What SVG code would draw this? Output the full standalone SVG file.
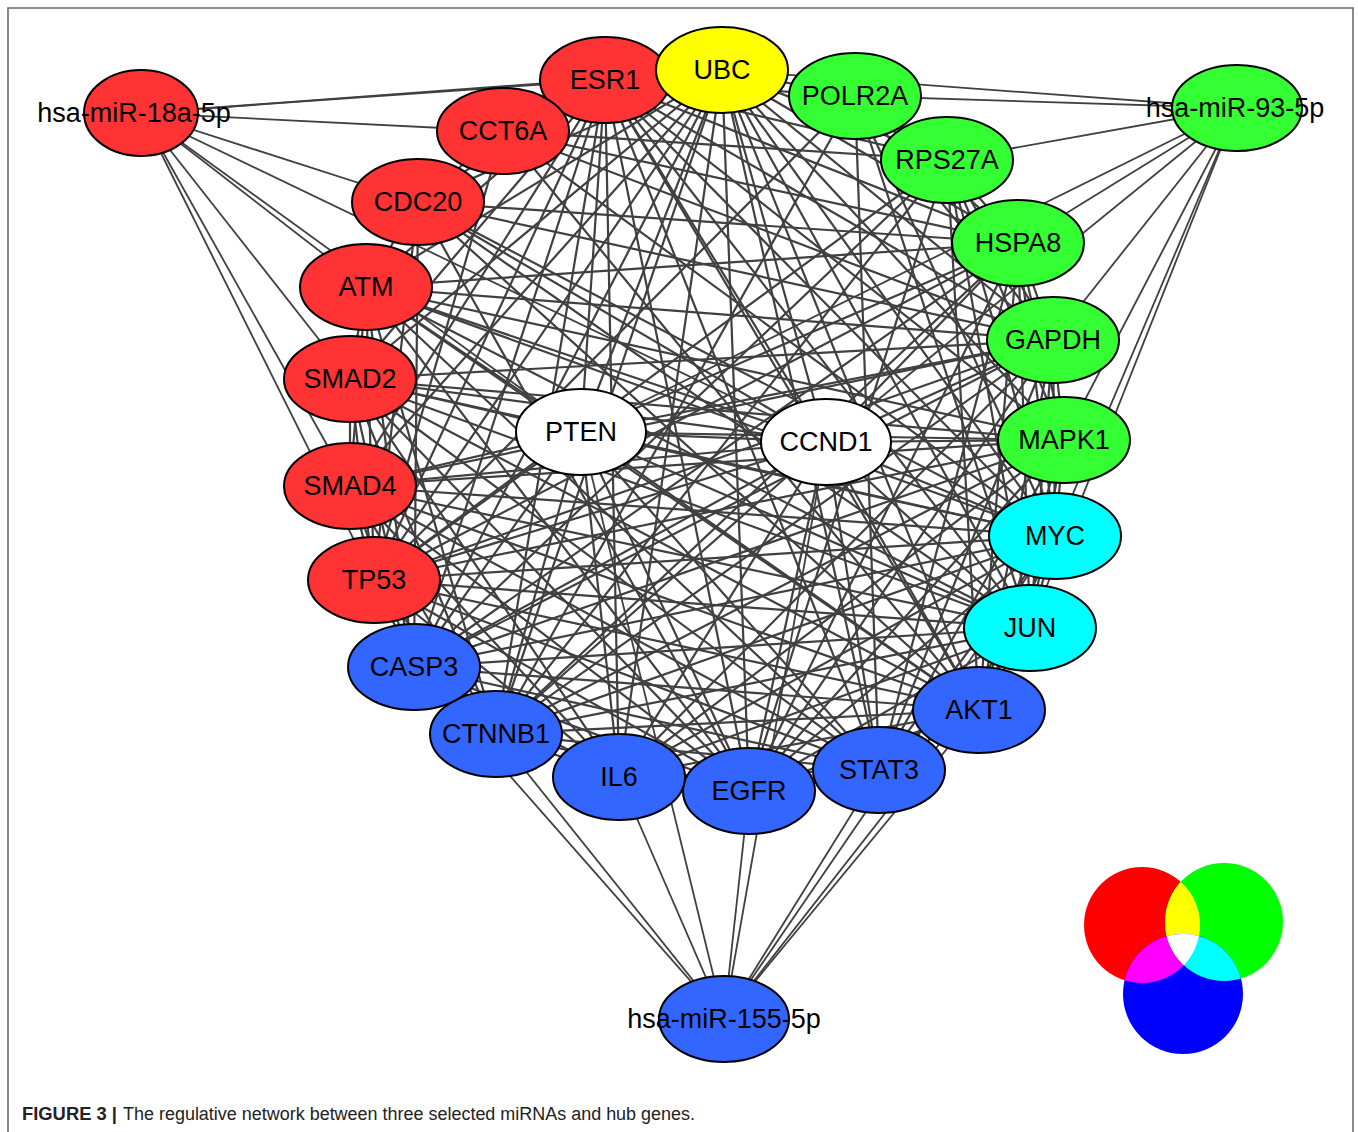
<svg xmlns="http://www.w3.org/2000/svg" width="1358" height="1132" viewBox="0 0 1358 1132">
<style>
.bg{fill:#fff}
.frame{fill:none;stroke:#666;stroke-width:1.5}
.e line{stroke:#404040;stroke-width:2.2}
.m line{stroke:#404040;stroke-width:1.8}
.n ellipse{stroke:#000;stroke-width:2}
.red{fill:#FF3333}.grn{fill:#33FF33}.blu{fill:#3366FF}.cyn{fill:#00FFFF}.yel{fill:#FFFF00}.wht{fill:#FFFFFF}
text{font-family:"Liberation Sans",Arial,sans-serif;fill:#000}
.lab{font-size:27px;text-anchor:middle}
.cap{font-size:18px;fill:#222}
</style>
<defs>
<clipPath id="cR"><circle cx="1142" cy="925" r="58"/></clipPath>
<clipPath id="cG"><circle cx="1224" cy="922" r="59"/></clipPath>
</defs>
<rect class="bg" x="0" y="0" width="1358" height="1132"/>
<rect class="frame" x="8" y="8" width="1345" height="1140"/>
<g id="connectors">
<g class="m">
<line x1="141" y1="113" x2="605" y2="80"/><line x1="141" y1="113" x2="722" y2="70"/><line x1="141" y1="113" x2="503" y2="131"/><line x1="141" y1="113" x2="418" y2="202"/><line x1="141" y1="113" x2="366" y2="287"/><line x1="141" y1="113" x2="350" y2="379"/><line x1="141" y1="113" x2="350" y2="486"/><line x1="141" y1="113" x2="374" y2="580"/><line x1="141" y1="113" x2="581" y2="432"/><line x1="141" y1="113" x2="826" y2="442"/>
<line x1="1237" y1="108" x2="722" y2="70"/><line x1="1237" y1="108" x2="855" y2="96"/><line x1="1237" y1="108" x2="947" y2="160"/><line x1="1237" y1="108" x2="1018" y2="243"/><line x1="1237" y1="108" x2="1053" y2="340"/><line x1="1237" y1="108" x2="1064" y2="440"/><line x1="1237" y1="108" x2="1055" y2="536"/><line x1="1237" y1="108" x2="1030" y2="628"/><line x1="1237" y1="108" x2="581" y2="432"/><line x1="1237" y1="108" x2="826" y2="442"/>
<line x1="724" y1="1019" x2="414" y2="667"/><line x1="724" y1="1019" x2="496" y2="734"/><line x1="724" y1="1019" x2="619" y2="777"/><line x1="724" y1="1019" x2="749" y2="791"/><line x1="724" y1="1019" x2="879" y2="770"/><line x1="724" y1="1019" x2="979" y2="710"/><line x1="724" y1="1019" x2="1055" y2="536"/><line x1="724" y1="1019" x2="1030" y2="628"/><line x1="724" y1="1019" x2="581" y2="432"/><line x1="724" y1="1019" x2="826" y2="442"/>
</g>
<g class="e">
<line x1="605" y1="80" x2="1053" y2="340"/><line x1="605" y1="80" x2="581" y2="432"/><line x1="605" y1="80" x2="826" y2="442"/><line x1="605" y1="80" x2="1064" y2="440"/><line x1="605" y1="80" x2="1055" y2="536"/><line x1="605" y1="80" x2="374" y2="580"/><line x1="605" y1="80" x2="1030" y2="628"/><line x1="605" y1="80" x2="414" y2="667"/><line x1="605" y1="80" x2="979" y2="710"/><line x1="605" y1="80" x2="496" y2="734"/><line x1="605" y1="80" x2="619" y2="777"/><line x1="605" y1="80" x2="749" y2="791"/><line x1="605" y1="80" x2="879" y2="770"/>
<line x1="1053" y1="340" x2="581" y2="432"/><line x1="1053" y1="340" x2="826" y2="442"/><line x1="1053" y1="340" x2="1064" y2="440"/><line x1="1053" y1="340" x2="1055" y2="536"/><line x1="1053" y1="340" x2="374" y2="580"/><line x1="1053" y1="340" x2="1030" y2="628"/><line x1="1053" y1="340" x2="414" y2="667"/><line x1="1053" y1="340" x2="979" y2="710"/><line x1="1053" y1="340" x2="496" y2="734"/><line x1="1053" y1="340" x2="619" y2="777"/><line x1="1053" y1="340" x2="749" y2="791"/><line x1="1053" y1="340" x2="879" y2="770"/>
<line x1="581" y1="432" x2="826" y2="442"/><line x1="581" y1="432" x2="1064" y2="440"/><line x1="581" y1="432" x2="1055" y2="536"/><line x1="581" y1="432" x2="374" y2="580"/><line x1="581" y1="432" x2="1030" y2="628"/><line x1="581" y1="432" x2="414" y2="667"/><line x1="581" y1="432" x2="979" y2="710"/><line x1="581" y1="432" x2="496" y2="734"/><line x1="581" y1="432" x2="619" y2="777"/><line x1="581" y1="432" x2="749" y2="791"/><line x1="581" y1="432" x2="879" y2="770"/>
<line x1="826" y1="442" x2="1064" y2="440"/><line x1="826" y1="442" x2="1055" y2="536"/><line x1="826" y1="442" x2="374" y2="580"/><line x1="826" y1="442" x2="1030" y2="628"/><line x1="826" y1="442" x2="414" y2="667"/><line x1="826" y1="442" x2="979" y2="710"/><line x1="826" y1="442" x2="496" y2="734"/><line x1="826" y1="442" x2="619" y2="777"/><line x1="826" y1="442" x2="749" y2="791"/><line x1="826" y1="442" x2="879" y2="770"/>
<line x1="1064" y1="440" x2="1055" y2="536"/><line x1="1064" y1="440" x2="374" y2="580"/><line x1="1064" y1="440" x2="1030" y2="628"/><line x1="1064" y1="440" x2="414" y2="667"/><line x1="1064" y1="440" x2="979" y2="710"/><line x1="1064" y1="440" x2="496" y2="734"/><line x1="1064" y1="440" x2="619" y2="777"/><line x1="1064" y1="440" x2="749" y2="791"/><line x1="1064" y1="440" x2="879" y2="770"/>
<line x1="1055" y1="536" x2="374" y2="580"/><line x1="1055" y1="536" x2="1030" y2="628"/><line x1="1055" y1="536" x2="414" y2="667"/><line x1="1055" y1="536" x2="979" y2="710"/><line x1="1055" y1="536" x2="496" y2="734"/><line x1="1055" y1="536" x2="619" y2="777"/><line x1="1055" y1="536" x2="749" y2="791"/><line x1="1055" y1="536" x2="879" y2="770"/>
<line x1="374" y1="580" x2="1030" y2="628"/><line x1="374" y1="580" x2="414" y2="667"/><line x1="374" y1="580" x2="979" y2="710"/><line x1="374" y1="580" x2="496" y2="734"/><line x1="374" y1="580" x2="619" y2="777"/><line x1="374" y1="580" x2="749" y2="791"/><line x1="374" y1="580" x2="879" y2="770"/>
<line x1="1030" y1="628" x2="414" y2="667"/><line x1="1030" y1="628" x2="979" y2="710"/><line x1="1030" y1="628" x2="496" y2="734"/><line x1="1030" y1="628" x2="619" y2="777"/><line x1="1030" y1="628" x2="749" y2="791"/><line x1="1030" y1="628" x2="879" y2="770"/>
<line x1="414" y1="667" x2="979" y2="710"/><line x1="414" y1="667" x2="496" y2="734"/><line x1="414" y1="667" x2="619" y2="777"/><line x1="414" y1="667" x2="749" y2="791"/><line x1="414" y1="667" x2="879" y2="770"/>
<line x1="979" y1="710" x2="496" y2="734"/><line x1="979" y1="710" x2="619" y2="777"/><line x1="979" y1="710" x2="749" y2="791"/><line x1="979" y1="710" x2="879" y2="770"/>
<line x1="496" y1="734" x2="619" y2="777"/><line x1="496" y1="734" x2="749" y2="791"/><line x1="496" y1="734" x2="879" y2="770"/>
<line x1="619" y1="777" x2="749" y2="791"/><line x1="619" y1="777" x2="879" y2="770"/><line x1="749" y1="791" x2="879" y2="770"/>
<line x1="722" y1="70" x2="605" y2="80"/><line x1="722" y1="70" x2="855" y2="96"/><line x1="722" y1="70" x2="503" y2="131"/><line x1="722" y1="70" x2="947" y2="160"/><line x1="722" y1="70" x2="418" y2="202"/><line x1="722" y1="70" x2="1018" y2="243"/><line x1="722" y1="70" x2="366" y2="287"/><line x1="722" y1="70" x2="1053" y2="340"/><line x1="722" y1="70" x2="350" y2="379"/><line x1="722" y1="70" x2="581" y2="432"/><line x1="722" y1="70" x2="826" y2="442"/><line x1="722" y1="70" x2="1064" y2="440"/><line x1="722" y1="70" x2="350" y2="486"/><line x1="722" y1="70" x2="1055" y2="536"/><line x1="722" y1="70" x2="374" y2="580"/><line x1="722" y1="70" x2="1030" y2="628"/><line x1="722" y1="70" x2="414" y2="667"/><line x1="722" y1="70" x2="979" y2="710"/><line x1="722" y1="70" x2="496" y2="734"/><line x1="722" y1="70" x2="619" y2="777"/><line x1="722" y1="70" x2="749" y2="791"/><line x1="722" y1="70" x2="879" y2="770"/>
<line x1="1018" y1="243" x2="374" y2="580"/><line x1="1018" y1="243" x2="979" y2="710"/><line x1="1018" y1="243" x2="1053" y2="340"/><line x1="1018" y1="243" x2="605" y2="80"/><line x1="1018" y1="243" x2="1055" y2="536"/><line x1="1018" y1="243" x2="496" y2="734"/><line x1="1018" y1="243" x2="414" y2="667"/><line x1="1018" y1="243" x2="749" y2="791"/><line x1="1018" y1="243" x2="1064" y2="440"/><line x1="1018" y1="243" x2="947" y2="160"/><line x1="1018" y1="243" x2="503" y2="131"/><line x1="1018" y1="243" x2="879" y2="770"/><line x1="1018" y1="243" x2="1030" y2="628"/><line x1="1018" y1="243" x2="581" y2="432"/><line x1="1018" y1="243" x2="826" y2="442"/>
<line x1="366" y1="287" x2="374" y2="580"/><line x1="366" y1="287" x2="979" y2="710"/><line x1="366" y1="287" x2="1055" y2="536"/><line x1="366" y1="287" x2="826" y2="442"/><line x1="366" y1="287" x2="581" y2="432"/><line x1="366" y1="287" x2="605" y2="80"/><line x1="366" y1="287" x2="350" y2="486"/><line x1="366" y1="287" x2="350" y2="379"/><line x1="366" y1="287" x2="414" y2="667"/><line x1="366" y1="287" x2="749" y2="791"/><line x1="366" y1="287" x2="1030" y2="628"/><line x1="366" y1="287" x2="1064" y2="440"/><line x1="366" y1="287" x2="496" y2="734"/><line x1="366" y1="287" x2="879" y2="770"/><line x1="366" y1="287" x2="1053" y2="340"/><line x1="366" y1="287" x2="418" y2="202"/><line x1="366" y1="287" x2="1018" y2="243"/>
<line x1="350" y1="379" x2="374" y2="580"/><line x1="350" y1="379" x2="350" y2="486"/><line x1="350" y1="379" x2="979" y2="710"/><line x1="350" y1="379" x2="1055" y2="536"/><line x1="350" y1="379" x2="1030" y2="628"/><line x1="350" y1="379" x2="496" y2="734"/><line x1="350" y1="379" x2="605" y2="80"/><line x1="350" y1="379" x2="749" y2="791"/><line x1="350" y1="379" x2="1064" y2="440"/><line x1="350" y1="379" x2="879" y2="770"/><line x1="350" y1="379" x2="826" y2="442"/><line x1="350" y1="379" x2="619" y2="777"/><line x1="350" y1="379" x2="414" y2="667"/><line x1="350" y1="379" x2="581" y2="432"/><line x1="350" y1="379" x2="1053" y2="340"/>
<line x1="350" y1="486" x2="374" y2="580"/><line x1="350" y1="486" x2="979" y2="710"/><line x1="350" y1="486" x2="1055" y2="536"/><line x1="350" y1="486" x2="1030" y2="628"/><line x1="350" y1="486" x2="496" y2="734"/><line x1="350" y1="486" x2="605" y2="80"/><line x1="350" y1="486" x2="826" y2="442"/><line x1="350" y1="486" x2="749" y2="791"/><line x1="350" y1="486" x2="1064" y2="440"/><line x1="350" y1="486" x2="879" y2="770"/><line x1="350" y1="486" x2="581" y2="432"/><line x1="350" y1="486" x2="414" y2="667"/><line x1="350" y1="486" x2="619" y2="777"/><line x1="350" y1="486" x2="1053" y2="340"/>
<line x1="418" y1="202" x2="374" y2="580"/><line x1="418" y1="202" x2="826" y2="442"/><line x1="418" y1="202" x2="1055" y2="536"/><line x1="418" y1="202" x2="605" y2="80"/><line x1="418" y1="202" x2="979" y2="710"/><line x1="418" y1="202" x2="503" y2="131"/><line x1="418" y1="202" x2="1053" y2="340"/><line x1="418" y1="202" x2="1030" y2="628"/><line x1="418" y1="202" x2="414" y2="667"/><line x1="418" y1="202" x2="749" y2="791"/><line x1="418" y1="202" x2="1018" y2="243"/>
<line x1="503" y1="131" x2="374" y2="580"/><line x1="503" y1="131" x2="1053" y2="340"/><line x1="503" y1="131" x2="1055" y2="536"/><line x1="503" y1="131" x2="605" y2="80"/><line x1="503" y1="131" x2="947" y2="160"/><line x1="503" y1="131" x2="979" y2="710"/>
<line x1="855" y1="96" x2="374" y2="580"/><line x1="855" y1="96" x2="1055" y2="536"/><line x1="855" y1="96" x2="605" y2="80"/><line x1="855" y1="96" x2="947" y2="160"/><line x1="855" y1="96" x2="1053" y2="340"/><line x1="855" y1="96" x2="1030" y2="628"/><line x1="855" y1="96" x2="496" y2="734"/><line x1="855" y1="96" x2="1018" y2="243"/><line x1="855" y1="96" x2="879" y2="770"/>
<line x1="947" y1="160" x2="374" y2="580"/><line x1="947" y1="160" x2="1055" y2="536"/><line x1="947" y1="160" x2="1053" y2="340"/><line x1="947" y1="160" x2="979" y2="710"/><line x1="947" y1="160" x2="749" y2="791"/><line x1="947" y1="160" x2="1064" y2="440"/><line x1="947" y1="160" x2="1030" y2="628"/><line x1="947" y1="160" x2="414" y2="667"/><line x1="947" y1="160" x2="605" y2="80"/><line x1="947" y1="160" x2="496" y2="734"/>
</g>
</g>
<g id="nodes" class="n">
<g id="node-miR18a"><ellipse class="red" cx="141" cy="113" rx="57" ry="43"/><text class="lab" x="134" y="122">hsa-miR-18a-5p</text></g>
<g id="node-miR93"><ellipse class="grn" cx="1237" cy="108" rx="65" ry="43"/><text class="lab" x="1235" y="117">hsa-miR-93-5p</text></g>
<g id="node-miR155"><ellipse class="blu" cx="724" cy="1019" rx="65" ry="43"/><text class="lab" x="724" y="1028">hsa-miR-155-5p</text></g>
<g id="node-ESR1"><ellipse class="red" cx="605" cy="80" rx="65" ry="43"/><text class="lab" x="605" y="89">ESR1</text></g>
<g id="node-CCT6A"><ellipse class="red" cx="503" cy="131" rx="66" ry="43"/><text class="lab" x="503" y="140">CCT6A</text></g>
<g id="node-CDC20"><ellipse class="red" cx="418" cy="202" rx="66" ry="43"/><text class="lab" x="418" y="211">CDC20</text></g>
<g id="node-ATM"><ellipse class="red" cx="366" cy="287" rx="66" ry="43"/><text class="lab" x="366" y="296">ATM</text></g>
<g id="node-SMAD2"><ellipse class="red" cx="350" cy="379" rx="66" ry="43"/><text class="lab" x="350" y="388">SMAD2</text></g>
<g id="node-SMAD4"><ellipse class="red" cx="350" cy="486" rx="66" ry="43"/><text class="lab" x="350" y="495">SMAD4</text></g>
<g id="node-TP53"><ellipse class="red" cx="374" cy="580" rx="66" ry="43"/><text class="lab" x="374" y="589">TP53</text></g>
<g id="node-UBC"><ellipse class="yel" cx="722" cy="70" rx="66" ry="43"/><text class="lab" x="722" y="79">UBC</text></g>
<g id="node-POLR2A"><ellipse class="grn" cx="855" cy="96" rx="66" ry="43"/><text class="lab" x="855" y="105">POLR2A</text></g>
<g id="node-RPS27A"><ellipse class="grn" cx="947" cy="160" rx="66" ry="43"/><text class="lab" x="947" y="169">RPS27A</text></g>
<g id="node-HSPA8"><ellipse class="grn" cx="1018" cy="243" rx="66" ry="43"/><text class="lab" x="1018" y="252">HSPA8</text></g>
<g id="node-GAPDH"><ellipse class="grn" cx="1053" cy="340" rx="66" ry="43"/><text class="lab" x="1053" y="349">GAPDH</text></g>
<g id="node-MAPK1"><ellipse class="grn" cx="1064" cy="440" rx="66" ry="43"/><text class="lab" x="1064" y="449">MAPK1</text></g>
<g id="node-MYC"><ellipse class="cyn" cx="1055" cy="536" rx="66" ry="43"/><text class="lab" x="1055" y="545">MYC</text></g>
<g id="node-JUN"><ellipse class="cyn" cx="1030" cy="628" rx="66" ry="43"/><text class="lab" x="1030" y="637">JUN</text></g>
<g id="node-AKT1"><ellipse class="blu" cx="979" cy="710" rx="66" ry="43"/><text class="lab" x="979" y="719">AKT1</text></g>
<g id="node-STAT3"><ellipse class="blu" cx="879" cy="770" rx="66" ry="43"/><text class="lab" x="879" y="779">STAT3</text></g>
<g id="node-EGFR"><ellipse class="blu" cx="749" cy="791" rx="66" ry="43"/><text class="lab" x="749" y="800">EGFR</text></g>
<g id="node-IL6"><ellipse class="blu" cx="619" cy="777" rx="66" ry="43"/><text class="lab" x="619" y="786">IL6</text></g>
<g id="node-CTNNB1"><ellipse class="blu" cx="496" cy="734" rx="66" ry="43"/><text class="lab" x="496" y="743">CTNNB1</text></g>
<g id="node-CASP3"><ellipse class="blu" cx="414" cy="667" rx="66" ry="43"/><text class="lab" x="414" y="676">CASP3</text></g>
<g id="node-PTEN"><ellipse class="wht" cx="581" cy="432" rx="65" ry="43"/><text class="lab" x="581" y="441">PTEN</text></g>
<g id="node-CCND1"><ellipse class="wht" cx="826" cy="442" rx="65" ry="43"/><text class="lab" x="826" y="451">CCND1</text></g>
</g>
<g id="venn">
<circle cx="1142" cy="925" r="58" fill="#FF0000"/>
<circle cx="1224" cy="922" r="59" fill="#00FF00"/>
<circle cx="1183" cy="994" r="60" fill="#0000FF"/>
<circle cx="1224" cy="922" r="59" fill="#FFFF00" clip-path="url(#cR)"/>
<circle cx="1183" cy="994" r="60" fill="#FF00FF" clip-path="url(#cR)"/>
<circle cx="1183" cy="994" r="60" fill="#00FFFF" clip-path="url(#cG)"/>
<g clip-path="url(#cR)"><circle cx="1183" cy="994" r="60" fill="#FFFFFF" clip-path="url(#cG)"/></g>
</g>
<g id="caption">
<text class="cap" x="22" y="1120" font-weight="bold" fill="#111" textLength="95" lengthAdjust="spacingAndGlyphs">FIGURE 3 |</text>
<text class="cap" x="123" y="1120" textLength="572" lengthAdjust="spacingAndGlyphs">The regulative network between three selected miRNAs and hub genes.</text>
</g>
</svg>
